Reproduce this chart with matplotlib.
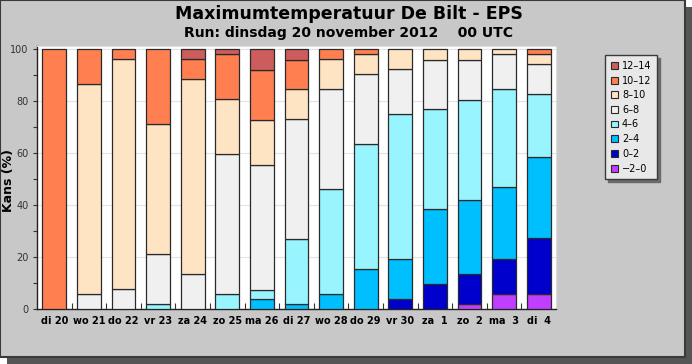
import numpy as np
import matplotlib
matplotlib.use("Agg")
import matplotlib.pyplot as plt
from matplotlib.patches import Rectangle, Patch

# ---- data (kans in %, per temperatuurklasse) ----
days = ["di 20", "wo 21", "do 22", "vr 23", "za 24", "zo 25", "ma 26", "di 27",
        "wo 28", "do 29", "vr 30", "za  1", "zo  2", "ma  3", "di  4"]

bins = ["\u22122\u20130", "0\u20132", "2\u20134", "4\u20136", "6\u20138",
        "8\u201310", "10\u201312", "12\u201314"]
colors = ["#BF3EFF", "#0000CD", "#00BFFF", "#98F5FF", "#F0F0F0",
          "#FFE4C4", "#FF7F50", "#CD5C5C"]

m2_0   = [0, 0, 0, 0, 0, 0, 0, 0, 0, 0, 0, 0, 1.9, 5.8, 5.8]
p0_2   = [0, 0, 0, 0, 0, 0, 0, 0, 0, 0, 3.8, 9.6, 11.5, 13.5, 21.7]
p2_4   = [0, 0, 0, 0, 0, 0, 3.8, 1.9, 5.8, 15.4, 15.4, 28.8, 28.8, 27.7, 31.2]
p4_6   = [0, 0, 0, 1.9, 0, 5.8, 3.8, 25.0, 40.4, 48.1, 55.8, 38.5, 38.5, 37.7, 24.0]
p6_8   = [0, 5.8, 7.7, 19.2, 13.5, 53.8, 48.1, 46.2, 38.5, 26.9, 17.3, 19.2, 15.4, 13.5, 11.5]
p8_10  = [0, 80.8, 88.5, 50.0, 75.0, 21.2, 17.3, 11.5, 11.5, 7.7, 7.7, 3.9, 3.9, 1.8, 3.9]
p10_12 = [100, 13.4, 3.8, 28.9, 7.7, 17.3, 19.2, 11.5, 3.8, 1.9, 0, 0, 0, 0, 1.9]
p12_14 = [0, 0, 0, 0, 3.8, 1.9, 7.8, 3.9, 0, 0, 0, 0, 0, 0, 0]

series = [m2_0, p0_2, p2_4, p4_6, p6_8, p8_10, p10_12, p12_14]

# ---- figure + panel with drop shadow ----
W, H = 692, 364
fig = plt.figure(figsize=(W / 100, H / 100), dpi=100, facecolor="white")
fig.patches.append(Rectangle((7 / W, 0), 1 - 7 / W, 1 - 7 / H, transform=fig.transFigure,
                             facecolor="#555555", edgecolor="none", zorder=-10))
fig.patches.append(Rectangle((0, 7 / H), 685 / W, 1 - 7 / H, transform=fig.transFigure,
                             facecolor="#C8C8C8", edgecolor="#3A3A3A", lw=1.5, zorder=-9))

ax = fig.add_axes([37 / W, 1 - 309.3 / H, (556 - 37) / W, (309.3 - 46) / H])
ax.set_facecolor("white")

x = np.arange(len(days))
bottom = np.zeros(len(days))
for vals, col in zip(series, colors):
    v = np.array(vals, dtype=float)
    keep = v > 0
    ax.bar(x[keep], v[keep], bottom=bottom[keep], width=0.69, color=col,
           edgecolor="#2A2A2A", linewidth=0.9, zorder=3)
    bottom += v

ax.set_xlim(-0.5, len(days) - 0.5)
ax.set_ylim(0, 101.3)

ax.set_yticks([0, 20, 40, 60, 80, 100])
ax.set_yticks(np.arange(10, 100, 20), minor=True)
ax.tick_params(axis="y", which="both", direction="out", length=3, width=0.8,
               labelsize=7, colors="#333333", pad=3)
ax.yaxis.grid(True, color="#E2E2E2", lw=0.8, zorder=0)

ax.set_xticks(x)
ax.set_xticklabels(days, fontsize=7, fontweight="bold")
ax.set_xticks(np.arange(0.5, len(days) - 0.5, 1), minor=True)
ax.tick_params(axis="x", which="major", length=0, pad=5)
ax.tick_params(axis="x", which="minor", direction="in", length=4, width=0.8, color="#333333")

for s in ["left", "bottom"]:
    ax.spines[s].set_color("#222222")
    ax.spines[s].set_linewidth(1.0)
for s in ["top", "right"]:
    ax.spines[s].set_color("#DDDDDD")

# y label placed by hand so it stays inside the panel
fig.text(9 / W, 1 - 180 / H, "Kans (%)", rotation=90, ha="center", va="center",
         fontsize=9, fontweight="bold")

fig.text(349 / W, 1 - 14 / H, "Maximumtemperatuur De Bilt - EPS",
         ha="center", va="center", fontsize=12.5, fontweight="bold")
fig.text(349 / W, 1 - 33 / H, "Run: dinsdag 20 november 2012    00 UTC",
         ha="center", va="center", fontsize=10, fontweight="bold")

# ---- legend ----
handles = [Patch(facecolor=c, edgecolor="#2A2A2A", lw=0.8) for c in colors][::-1]
labels = bins[::-1]
leg = fig.legend(handles, labels, loc="upper left",
                 bbox_to_anchor=(605 / W, 1 - 55 / H), borderaxespad=0,
                 frameon=True, fancybox=False,
                 fontsize=7, handlelength=0.7, handleheight=0.7,
                 handletextpad=0.45, labelspacing=0.48, borderpad=0.6,
                 shadow={"color": "#6A6A6A", "alpha": 1})
leg.get_frame().set_facecolor("#E8E8E8")
leg.get_frame().set_edgecolor("#3A3A3A")
leg.get_frame().set_linewidth(1.0)

fig.savefig("out.png", dpi=100, facecolor=fig.get_facecolor())
